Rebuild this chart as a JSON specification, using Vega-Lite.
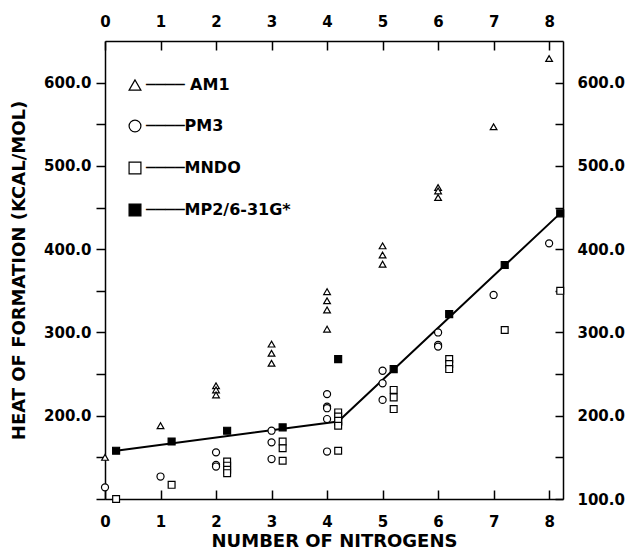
{
  "$schema": "https://vega.github.io/schema/vega-lite/v6.json",
  "width": 458,
  "height": 458,
  "padding": {"left": 10, "top": 14, "right": 0, "bottom": 0},
  "background": "white",
  "datasets": {
    "pts": [
      {"n": 0.2, "heat": 158, "method": "MP2/6-31G*"},
      {"n": 1.2, "heat": 169, "method": "MP2/6-31G*"},
      {"n": 2.2, "heat": 182, "method": "MP2/6-31G*"},
      {"n": 3.2, "heat": 186, "method": "MP2/6-31G*"},
      {"n": 4.2, "heat": 193, "method": "MP2/6-31G*"},
      {"n": 4.2, "heat": 268, "method": "MP2/6-31G*"},
      {"n": 5.2, "heat": 256, "method": "MP2/6-31G*"},
      {"n": 6.2, "heat": 322, "method": "MP2/6-31G*"},
      {"n": 7.2, "heat": 381, "method": "MP2/6-31G*"},
      {"n": 8.2, "heat": 443, "method": "MP2/6-31G*"},
      {"n": 0, "heat": 150, "method": "AM1"},
      {"n": 1, "heat": 188, "method": "AM1"},
      {"n": 2, "heat": 236, "method": "AM1"},
      {"n": 2, "heat": 231, "method": "AM1"},
      {"n": 2, "heat": 225, "method": "AM1"},
      {"n": 3, "heat": 286, "method": "AM1"},
      {"n": 3, "heat": 275, "method": "AM1"},
      {"n": 3, "heat": 263, "method": "AM1"},
      {"n": 4, "heat": 349, "method": "AM1"},
      {"n": 4, "heat": 338, "method": "AM1"},
      {"n": 4, "heat": 327, "method": "AM1"},
      {"n": 4, "heat": 304, "method": "AM1"},
      {"n": 5, "heat": 404, "method": "AM1"},
      {"n": 5, "heat": 393, "method": "AM1"},
      {"n": 5, "heat": 382, "method": "AM1"},
      {"n": 6, "heat": 474, "method": "AM1"},
      {"n": 6, "heat": 470, "method": "AM1"},
      {"n": 6, "heat": 462, "method": "AM1"},
      {"n": 7, "heat": 547, "method": "AM1"},
      {"n": 8, "heat": 629, "method": "AM1"},
      {"n": 0, "heat": 114, "method": "PM3"},
      {"n": 1, "heat": 127, "method": "PM3"},
      {"n": 2, "heat": 156, "method": "PM3"},
      {"n": 2, "heat": 141, "method": "PM3"},
      {"n": 2, "heat": 139, "method": "PM3"},
      {"n": 3, "heat": 182, "method": "PM3"},
      {"n": 3, "heat": 168, "method": "PM3"},
      {"n": 3, "heat": 148, "method": "PM3"},
      {"n": 4, "heat": 226, "method": "PM3"},
      {"n": 4, "heat": 211, "method": "PM3"},
      {"n": 4, "heat": 209, "method": "PM3"},
      {"n": 4, "heat": 196, "method": "PM3"},
      {"n": 4, "heat": 157, "method": "PM3"},
      {"n": 5, "heat": 254, "method": "PM3"},
      {"n": 5, "heat": 239, "method": "PM3"},
      {"n": 5, "heat": 219, "method": "PM3"},
      {"n": 6, "heat": 300, "method": "PM3"},
      {"n": 6, "heat": 285, "method": "PM3"},
      {"n": 6, "heat": 283, "method": "PM3"},
      {"n": 7, "heat": 345, "method": "PM3"},
      {"n": 8, "heat": 407, "method": "PM3"},
      {"n": 0.2, "heat": 100, "method": "MNDO"},
      {"n": 1.2, "heat": 117, "method": "MNDO"},
      {"n": 2.2, "heat": 145, "method": "MNDO"},
      {"n": 2.2, "heat": 140, "method": "MNDO"},
      {"n": 2.2, "heat": 135, "method": "MNDO"},
      {"n": 2.2, "heat": 131, "method": "MNDO"},
      {"n": 3.2, "heat": 169, "method": "MNDO"},
      {"n": 3.2, "heat": 161, "method": "MNDO"},
      {"n": 3.2, "heat": 146, "method": "MNDO"},
      {"n": 4.2, "heat": 204, "method": "MNDO"},
      {"n": 4.2, "heat": 199, "method": "MNDO"},
      {"n": 4.2, "heat": 194, "method": "MNDO"},
      {"n": 4.2, "heat": 188, "method": "MNDO"},
      {"n": 4.2, "heat": 158, "method": "MNDO"},
      {"n": 5.2, "heat": 231, "method": "MNDO"},
      {"n": 5.2, "heat": 222, "method": "MNDO"},
      {"n": 5.2, "heat": 208, "method": "MNDO"},
      {"n": 6.2, "heat": 268, "method": "MNDO"},
      {"n": 6.2, "heat": 262, "method": "MNDO"},
      {"n": 6.2, "heat": 256, "method": "MNDO"},
      {"n": 7.2, "heat": 303, "method": "MNDO"},
      {"n": 8.2, "heat": 350, "method": "MNDO"}
    ],
    "fit": [
      {"n": 0.2, "heat": 158},
      {"n": 4.2, "heat": 193},
      {"n": 8.2, "heat": 443}
    ]
  },
  "layer": [
    {
      "data": {"name": "fit"},
      "mark": {"type": "line", "color": "black", "strokeWidth": 2},
      "encoding": {
        "x": {"field": "n", "type": "quantitative", "scale": {"domain": [0, 8.25], "nice": false, "zero": false},
          "axis": {"orient": "top", "title": null, "values": [0,1,2,3,4,5,6,7,8], "format": "d", "tickSize": -9, "labelPadding": 21, "labelFlush": false}},
        "y": {"field": "heat", "type": "quantitative", "scale": {"domain": [100, 650], "nice": false, "zero": false},
          "axis": {"orient": "right", "title": null, "values": [100,150,200,250,300,350,400,450,500,550,600], "tickSize": -8, "labelPadding": 22,
            "labelExpr": "datum.value % 100 == 0 ? format(datum.value, '.1f') : ''", "labelFlush": false}}
      }
    },
    {
      "data": {"name": "pts"},
      "mark": {"type": "point", "filled": true, "strokeWidth": 1.2, "opacity": 1},
      "encoding": {
        "x": {"field": "n", "type": "quantitative", "scale": {"domain": [0, 8.25], "nice": false, "zero": false},
          "axis": {"orient": "bottom", "title": "NUMBER OF NITROGENS", "values": [0,1,2,3,4,5,6,7,8], "format": "d", "tickSize": -9, "labelPadding": 24, "titlePadding": 3, "labelFlush": false}},
        "y": {"field": "heat", "type": "quantitative", "scale": {"domain": [100, 650], "nice": false, "zero": false},
          "axis": {"orient": "left", "title": "HEAT OF FORMATION (KCAL/MOL)", "values": [100,150,200,250,300,350,400,450,500,550,600], "tickSize": 9, "labelPadding": 5, "titlePadding": 15,
            "labelExpr": "datum.value % 100 == 0 && datum.value > 100 ? format(datum.value, '.1f') : ''", "labelFlush": false}},
        "shape": {"field": "method", "type": "nominal",
          "scale": {"domain": ["AM1", "PM3", "MNDO", "MP2/6-31G*"], "range": ["triangle-up", "circle", "square", "square"]},
          "legend": {"orient": "top-left", "offset": 22, "title": " ", "titleFontSize": 10, "titlePadding": 4,
            "labelExpr": "'────' + (datum.label == 'AM1' ? ' ' : '') + datum.label"}},
        "fill": {"field": "method", "type": "nominal",
          "scale": {"domain": ["AM1", "PM3", "MNDO", "MP2/6-31G*"], "range": ["white", "white", "white", "black"]},
          "legend": {"orient": "top-left", "offset": 22, "title": " ", "titleFontSize": 10, "titlePadding": 4,
            "labelExpr": "'────' + (datum.label == 'AM1' ? ' ' : '') + datum.label"}},
        "stroke": {"field": "method", "type": "nominal",
          "scale": {"domain": ["AM1", "PM3", "MNDO", "MP2/6-31G*"], "range": ["black", "black", "black", "black"]},
          "legend": {"orient": "top-left", "offset": 22, "title": " ", "titleFontSize": 10, "titlePadding": 4,
            "labelExpr": "'────' + (datum.label == 'AM1' ? ' ' : '') + datum.label"}},
        "size": {"field": "method", "type": "nominal",
          "scale": {"range": [45, 50, 175, 56]},
          "legend": null}
      }
    }
  ],
  "resolve": {"scale": {"x": "independent", "y": "independent"}},
  "config": {
    "view": {"stroke": null},
    "font": "DejaVu Sans",
    "axis": {
      "grid": false,
      "domainColor": "black", "domainWidth": 1.5,
      "tickColor": "black", "tickWidth": 1.5,
      "labelFont": "DejaVu Sans", "labelFontWeight": "bold", "labelFontSize": 15, "labelColor": "black",
      "titleFont": "DejaVu Sans", "titleFontWeight": "bold", "titleFontSize": 18, "titleColor": "black"
    },
    "legend": {
      "padding": 0,
      "labelFont": "DejaVu Sans", "labelFontWeight": "bold", "labelFontSize": 16, "labelColor": "black",
      "symbolSize": 140, "symbolStrokeWidth": 1.2,
      "rowPadding": 24, "labelOffset": 3
    }
  }
}
